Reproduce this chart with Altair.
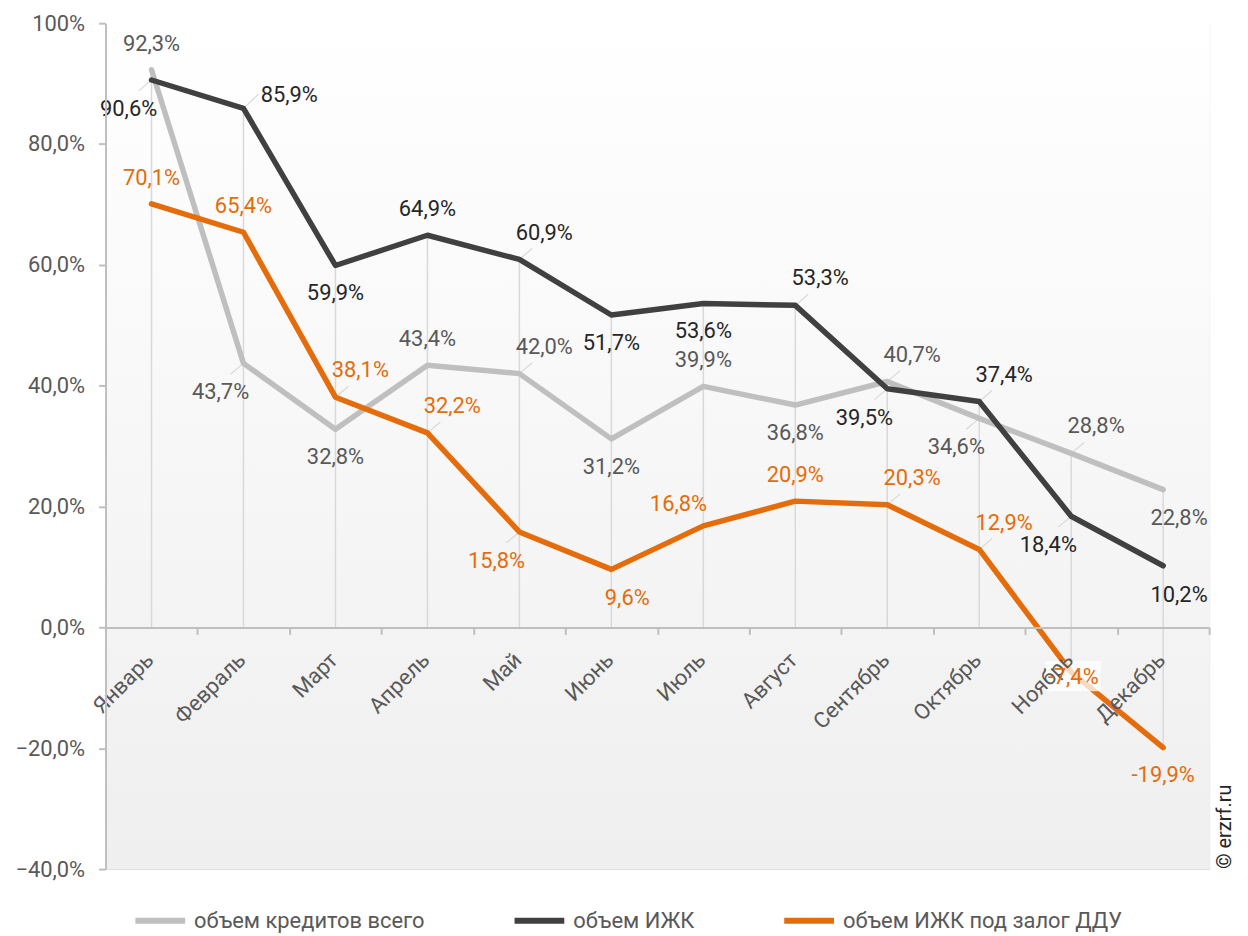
import altair as alt
import pandas as pd

months = ["Январь", "Февраль", "Март", "Апрель", "Май", "Июнь",
          "Июль", "Август", "Сентябрь", "Октябрь", "Ноябрь", "Декабрь"]
series_names = ["объем кредитов всего", "объем ИЖК", "объем ИЖК под залог ДДУ"]
total = [92.3, 43.7, 32.8, 43.4, 42.0, 31.2, 39.9, 36.8, 40.7, 34.6, 28.8, 22.8]
izhk = [90.6, 85.9, 59.9, 64.9, 60.9, 51.7, 53.6, 53.3, 39.5, 37.4, 18.4, 10.2]
ddu = [70.1, 65.4, 38.1, 32.2, 15.8, 9.6, 16.8, 20.9, 20.3, 12.9, -7.4, -19.9]
y_ticks = [-40, -20, 0, 20, 40, 60, 80, 100]

# label placement codes (style, not data)
place_total = ["t", "bl", "b", "t", "tr", "b", "t", "b", "tr", "bl", "tr", "br"]
place_izhk = ["bl", "r", "b", "t", "tr", "b", "b", "tr", "bl", "tr", "bl", "br"]
place_ddu = ["t", "t", "tr", "tr", "bl", "br", "tl", "t", "tr", "tr", "c", "b"]

line_colors = ["#BFBFBF", "#404040", "#E46C0A"]
label_colors = {"объем кредитов всего": "#595959", "объем ИЖК": "#262626",
                "объем ИЖК под залог ДДУ": "#E46C0A"}
offsets = {"t": (0, -26), "b": (0, 28), "tr": (25, -27), "bl": (-23, 29),
           "tl": (-25, -22), "br": (16, 29), "r": (46, -13), "c": (2, 5)}
leader = {"tr": (0.14, 1.8), "bl": (-0.14, -1.8), "r": (0.16, 2.3)}

rows = []
for name, vals, places in zip(series_names, [total, izhk, ddu], [place_total, place_izhk, place_ddu]):
    for i, (v, p) in enumerate(zip(vals, places)):
        lx, ly = leader.get(p, (0, 0))
        rows.append({"idx": i, "month": months[i], "series": name, "value": v,
                     "label": (f"{v:.1f}".replace(".", ",") + "%"), "place": p,
                     "lcolor": label_colors[name],
                     "lead_x": i + lx, "lead_y": v + ly, "has_lead": p in leader})
df = pd.DataFrame(rows)

drop = pd.DataFrame({
    "idx": list(range(12)),
    "hi": [max(0, a, b, c) for a, b, c in zip(total, izhk, ddu)],
    "lo": [min(0, a, b, c) for a, b, c in zip(total, izhk, ddu)],
})
mdf = pd.DataFrame({"idx": list(range(12)), "month": months})

W, H = 1109, 850
FONT = "Roboto"
FS = 22
xscale = alt.Scale(domain=[-0.5, 11.5], nice=False, zero=False)
yscale = alt.Scale(domain=[-40, 100], nice=False, zero=False)

xaxis = alt.Axis(values=[i - 0.5 for i in range(13)], labels=False, title=None, grid=False,
                 domainColor="#BFBFBF", domainWidth=2, tickColor="#BFBFBF", tickWidth=2,
                 tickSize=7, offset=-(40 / 140 * H), zindex=1)
yaxis = alt.Axis(values=y_ticks, title=None, grid=False, domainColor="#BFBFBF", domainWidth=2,
                 tickColor="#BFBFBF", tickWidth=2, tickSize=7, labelPadding=14, zindex=1,
                 labelFont=FONT, labelFontSize=FS, labelColor="#595959",
                 labelExpr="datum.value == 100 ? '100%' : replace(format(datum.value, '.1f'), '.', ',') + '%'")


def X(field=None, datum=None):
    if datum is not None:
        return alt.X(datum=datum, type="quantitative", scale=xscale, axis=xaxis)
    return alt.X(field, type="quantitative", scale=xscale, axis=xaxis)


def Y(field=None, datum=None):
    if datum is not None:
        return alt.Y(datum=datum, type="quantitative", scale=yscale, axis=yaxis)
    return alt.Y(field, type="quantitative", scale=yscale, axis=yaxis)


bg = alt.Chart(mdf).mark_rect(
    color=alt.Gradient(gradient="linear", x1=0, x2=0, y1=0, y2=1,
                       stops=[alt.GradientStop(color="#FFFFFF", offset=0),
                              alt.GradientStop(color="#EFEFEF", offset=1)])
).encode(
    x=X(datum=-0.5), x2=alt.X2(datum=11.5),
    y=Y(datum=100), y2=alt.Y2(datum=-40),
)

drops = alt.Chart(drop).mark_rule(color="#D9D9D9", strokeWidth=1.5).encode(
    x=X("idx"), y=Y("hi"), y2="lo:Q",
)

month_labels = alt.Chart(mdf).mark_text(
    font=FONT, fontSize=FS, color="#595959", angle=315, align="right", baseline="middle", dx=-2
).encode(
    x=X("idx"), y=Y(datum=-4.6), text="month:N",
)

leaders = alt.Chart(df).transform_filter("datum.has_lead").mark_rule(
    color="#D9D9D9", strokeWidth=1.2).encode(
    x=X("idx"), x2="lead_x:Q", y=Y("value"), y2="lead_y:Q",
)

lines = alt.Chart(df).mark_line(strokeWidth=5.5, strokeCap="round", strokeJoin="round").encode(
    x=X("idx"), y=Y("value"),
    color=alt.Color("series:N", scale=alt.Scale(domain=series_names, range=line_colors),
                    sort=series_names,
                    legend=alt.Legend(title=None, orient="none", legendX=27, legendY=874,
                                      direction="horizontal", symbolType="stroke",
                                      symbolSize=2500, symbolStrokeWidth=6, labelLimit=0,
                                      labelFont=FONT, labelFontSize=FS, labelColor="#595959",
                                      columnPadding=78, labelOffset=6)),
    order="idx:Q",
)

# white semi-transparent box behind the label placed on the line
box = alt.Chart(df).transform_filter(alt.datum.place == "c").mark_point(
    shape="M-1,-0.54H1V0.54H-1Z", size=3136, filled=True, fill="white", opacity=0.75,
    strokeWidth=0, xOffset=2, yOffset=4
).encode(x=X("idx"), y=Y("value"))

label_layers = []
for code, (dx, dy) in offsets.items():
    label_layers.append(
        alt.Chart(df).transform_filter(alt.datum.place == code).mark_text(
            font=FONT, fontSize=FS, dx=dx, dy=dy, align="center", baseline="middle"
        ).encode(
            x=X("idx"), y=Y("value"), text="label:N",
            color=alt.Color("lcolor:N", scale=None, legend=None),
        )
    )

copyright_txt = alt.Chart(mdf).transform_filter("datum.idx == 0").mark_text(
    font=FONT, fontSize=20, color="#262626", angle=270, align="left", baseline="middle",
    text="© erzrf.ru"
).encode(x=alt.value(1125), y=alt.value(H))

chart = alt.layer(bg, drops, leaders, lines, box, month_labels, *label_layers, copyright_txt).properties(
    width=W, height=H, padding={"left": 6, "top": 2, "right": 5, "bottom": 5}
).configure_view(stroke=None).configure(background="white")

chart.save("out.html", embed_options={"renderer": "svg", "actions": False})
